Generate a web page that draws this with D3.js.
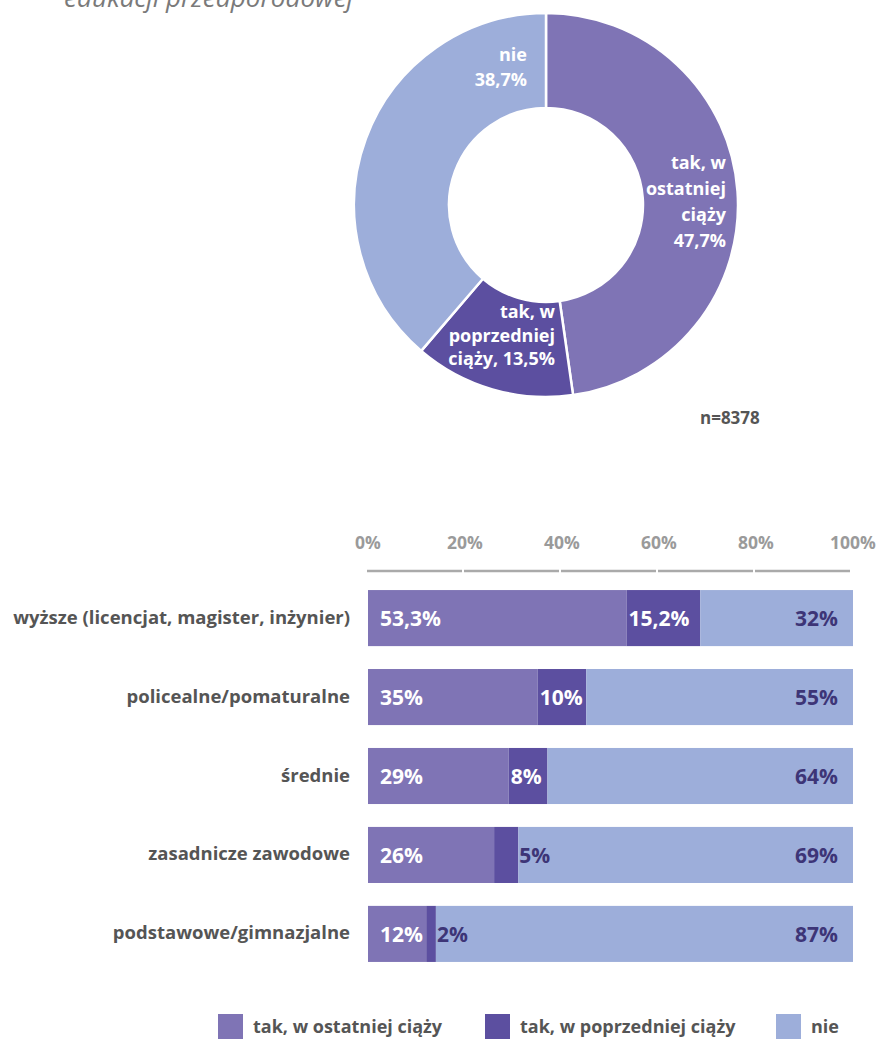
<!DOCTYPE html>
<html><head><meta charset="utf-8">
<script src="https://cdn.jsdelivr.net/npm/d3@7"></script>
<style>body{margin:0;background:#fff}svg{display:block}</style>
</head><body>
<svg id="c" width="878" height="1039"></svg>
<script>
const FONT = "'Open Sans', 'Noto Sans', sans-serif";
const seriesNames = ["tak, w ostatniej ciąży", "tak, w poprzedniej ciąży", "nie"];
const seriesColors = ["#7f74b5", "#5c4fa0", "#9daeda"];
const donutValues = [47.7, 13.5, 38.7];
const donutLabels = [["tak, w", "ostatniej", "ciąży", "47,7%"], ["tak, w", "poprzedniej", "ciąży, 13,5%"], ["nie", "38,7%"]];
const sampleText = "n=8378";
const categories = ["wyższe (licencjat, magister, inżynier)", "policealne/pomaturalne", "średnie", "zasadnicze zawodowe", "podstawowe/gimnazjalne"];
const valOstatniej = [53.3, 35, 29, 26, 12];
const valPoprzedniej = [15.2, 10, 8, 5, 2];
const valNie = [32, 55, 64, 69, 87];
const labOstatniej = ["53,3%", "35%", "29%", "26%", "12%"];
const labPoprzedniej = ["15,2%", "10%", "8%", "5%", "2%"];
const labNie = ["32%", "55%", "64%", "69%", "87%"];
const tickValues = [0, 20, 40, 60, 80, 100];
const titleText = "edukacji przedporodowej";

const svg = d3.select("#c");

// title (cut off at top, as in the source)
svg.append("text").attr("x", 64).attr("y", 7).attr("font-family", FONT)
  .attr("font-style", "italic").attr("font-size", 26).attr("fill", "#7a7a7a").text(titleText);

// donut
const cx = 546, cy = 205, R = 192, r = 97;
const pie = d3.pie().sort(null).value(d => d);
const arc = d3.arc().innerRadius(r).outerRadius(R);
const g = svg.append("g").attr("transform", `translate(${cx},${cy})`);
const arcs = pie(donutValues);
g.selectAll("path").data(arcs).join("path")
  .attr("d", arc).attr("fill", (d, i) => seriesColors[i])
  .attr("stroke", "#fff").attr("stroke-width", 2.5);

const labelAnchors = [{x: 180, y: -36, dy: 26}, {x: 9, y: 113, dy: 23.5}, {x: -19, y: -144, dy: 25}];
donutLabels.forEach((lines, i) => {
  const t = g.append("text").attr("font-family", FONT).attr("font-weight", 700)
    .attr("font-size", 18).attr("fill", "#fff").attr("text-anchor", "end");
  lines.forEach((ln, j) => {
    t.append("tspan").attr("x", labelAnchors[i].x).attr("y", labelAnchors[i].y + j * labelAnchors[i].dy).text(ln);
  });
});

svg.append("text").attr("x", 700).attr("y", 424).attr("font-family", FONT)
  .attr("font-weight", 700).attr("font-size", 17).attr("fill", "#555").text(sampleText);

// bar chart
const x = d3.scaleLinear().domain([0, 100]).range([368, 853]);
const y = d3.scaleBand().domain(categories).range([579, 973]).paddingInner(0.29).paddingOuter(0.14);

// tick labels
svg.append("g").selectAll("text").data(tickValues).join("text")
  .attr("x", d => x(d)).attr("y", 549).attr("text-anchor", "middle")
  .attr("font-family", FONT).attr("font-weight", 700).attr("font-size", 17.5).attr("fill", "#9a9a9a")
  .text(d => d + "%");
// tick line segments
svg.append("g").selectAll("line").data(tickValues.slice(0, -1)).join("line")
  .attr("x1", d => x(d) - 1).attr("x2", (d, i) => x(tickValues[i + 1]) - 3)
  .attr("y1", 571).attr("y2", 571).attr("stroke", "#aaaaaa").attr("stroke-width", 2.5);

const rows = categories.map((c, i) => ({c, vals: [valOstatniej[i], valPoprzedniej[i], valNie[i]],
  labs: [labOstatniej[i], labPoprzedniej[i], labNie[i]]}));

const rowG = svg.append("g").selectAll("g").data(rows).join("g");
rowG.each(function(d) {
  const gg = d3.select(this);
  let acc = 0;
  const yy = y(d.c), h = y.bandwidth();
  d.vals.forEach((v, k) => {
    const x0 = Math.min(acc, 100), x1 = Math.min(acc + v, 100);
    gg.append("rect").attr("x", x(x0)).attr("width", x(x1) - x(x0))
      .attr("y", yy).attr("height", h).attr("fill", seriesColors[k]);
    acc += v;
  });
  const c0 = d.vals[0], c1 = d.vals[0] + d.vals[1];
  const yt = yy + h / 2;
  const base = g2 => g2.attr("font-family", FONT).attr("font-weight", 700).attr("font-size", 21)
    .attr("dominant-baseline", "central").attr("y", yt);
  gg.append("text").call(base).attr("x", x(0) + 12).attr("fill", "#fff").text(d.labs[0]);
  const narrow = (x(c1) - x(c0)) < 36;
  gg.append("text").call(base).attr("x", narrow ? x(c1) + 1 : x(c0) + 2)
    .attr("fill", narrow ? "#3d3577" : "#fff").text(d.labs[1]);
  gg.append("text").call(base).attr("x", x(100) - 15).attr("text-anchor", "end")
    .attr("fill", "#3d3577").text(d.labs[2]);
  gg.append("text").attr("x", 350).attr("y", yt - 2).attr("text-anchor", "end")
    .attr("dominant-baseline", "central").attr("font-family", FONT).attr("font-weight", 700)
    .attr("font-size", 18.5).attr("fill", "#555").text(d.c);
});

// legend
const legX = [218, 485, 776];
const lg = svg.append("g").selectAll("g").data(seriesNames).join("g")
  .attr("transform", (d, i) => `translate(${legX[i]},1014)`);
lg.append("rect").attr("width", 25).attr("height", 25).attr("fill", (d, i) => seriesColors[i]);
lg.append("text").attr("x", 35).attr("y", 19).attr("font-family", FONT).attr("font-weight", 700)
  .attr("font-size", 18).attr("fill", "#555").text(d => d);
</script>
</body></html>
